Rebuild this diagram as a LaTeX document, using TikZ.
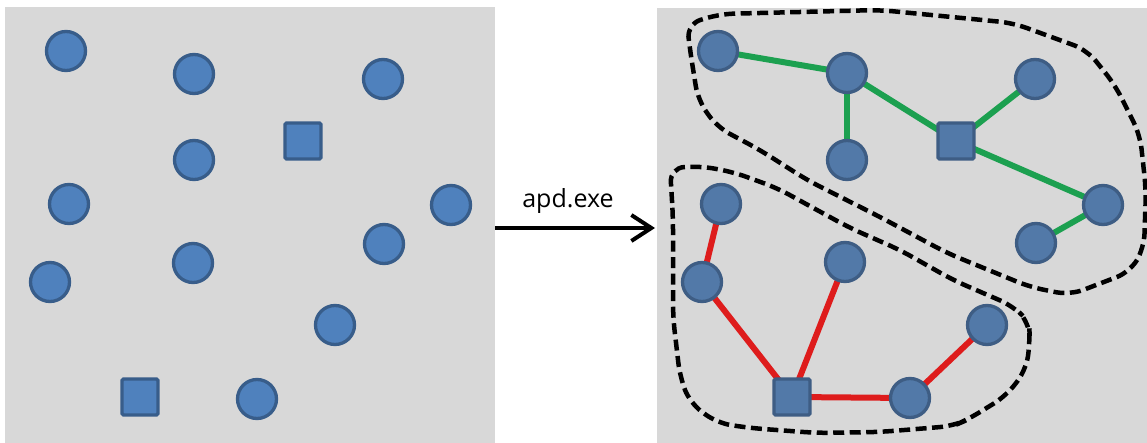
\documentclass[tikz,border=0pt]{standalone}
\usepackage{fontspec}
\setmainfont{Open Sans}
\usetikzlibrary{arrows.meta}
\pgfdeclarelayer{bg}
\pgfdeclarelayer{edges}
\pgfsetlayers{bg,edges,main}
\definecolor{panel}{RGB}{216,216,216}
\definecolor{nodefill}{RGB}{79,129,189}
\definecolor{nodeline}{RGB}{56,93,138}
\definecolor{nodefillb}{RGB}{82,121,168}
\definecolor{nodelineb}{RGB}{62,93,132}
\definecolor{linkgreen}{RGB}{28,160,80}
\definecolor{linkred}{RGB}{222,28,28}
\tikzset{
  pt/.style={circle, draw=nodeline, fill=nodefill, line width=3.3pt, minimum size=39pt, inner sep=0pt},
  hub/.style={rectangle, rounded corners=1.5pt, draw=nodeline, fill=nodefill, line width=3.3pt, minimum size=36pt, inner sep=0pt},
  ptb/.style={pt, draw=nodelineb, fill=nodefillb},
  hubb/.style={hub, draw=nodelineb, fill=nodefillb},
  glink/.style={draw=linkgreen, line width=6pt},
  rlink/.style={draw=linkred, line width=6pt},
  hull/.style={draw=black, line width=4.5pt, dash pattern=on 11pt off 5.5pt},
}
\begin{document}
\begin{tikzpicture}[x=1pt, y=-1pt]
\useasboundingbox (0,0) rectangle (1147,443);
\begin{pgfonlayer}{bg}
  \fill[white] (0,0) rectangle (1147,443);
  \fill[panel] (5,7) rectangle (495,443);
  \fill[panel] (657,8) rectangle (1147,443);
\end{pgfonlayer}

% scattered input points
\node[pt] (a1) at (66,51) {};
\node[pt] (a2) at (194,74) {};
\node[pt] (a3) at (383,79) {};
\node[pt] (a4) at (194,160) {};
\node[pt] (a5) at (69,204) {};
\node[pt] (a6) at (451,205) {};
\node[pt] (a7) at (384,244) {};
\node[pt] (a8) at (50,282) {};
\node[pt] (a9) at (193,263) {};
\node[pt] (a10) at (335,325) {};
\node[pt] (a11) at (257,399) {};
\node[hub] (as1) at (303,141) {};
\node[hub] (as2) at (140,397) {};

% arrow with label
\coordinate (from) at (495,228);
\coordinate (to) at (655,228);
\draw[line width=4pt, -{Straight Barb[length=20pt, width=26pt, line width=4pt]}] (from) -- (to)
  node[midway, above=9pt, xshift=-7pt, font=\fontsize{25}{30}\selectfont] (lbl) {apd.exe};

% clustered result, upper group
\node[ptb] (u1) at (718,51) {};
\node[ptb] (u2) at (847,73) {};
\node[ptb] (u3) at (1035,79) {};
\node[ptb] (u4) at (847,160) {};
\node[ptb] (u5) at (1103,205) {};
\node[ptb] (u6) at (1036,243) {};
\node[hubb] (us) at (956,141) {};

% lower group
\node[ptb] (l1) at (721,204) {};
\node[ptb] (l2) at (702,282) {};
\node[ptb] (l3) at (845,262) {};
\node[ptb] (l4) at (987,325) {};
\node[ptb] (l5) at (910,398) {};
\node[hubb] (ls) at (792,397) {};

\begin{pgfonlayer}{edges}
  \draw[glink] (u1.center) -- (u2.center);
  \draw[glink] (u2.center) -- (u4.center);
  \draw[glink] (u2.center) -- (us.center);
  \draw[glink] (us.center) -- (u3.center);
  \draw[glink] (us.center) -- (u5.center);
  \draw[glink] (u5.center) -- (u6.center);
  \draw[rlink] (l1.center) -- (l2.center);
  \draw[rlink] (l2.center) -- (ls.center);
  \draw[rlink] (ls.center) -- (l3.center);
  \draw[rlink] (ls.center) -- (l5.center);
  \draw[rlink] (l5.center) -- (l4.center);

  % cluster outlines
  \draw[hull, rounded corners=14pt] (690,50) -- (687,24) -- (720,14) -- (880,10) -- (1013,23) -- (1087,50)
    -- (1115,85) -- (1140,135) -- (1146,190) -- (1144,248) -- (1130,272) -- (1070,295)
    -- (1030,287) -- (947,253) -- (880,217) -- (807,180) -- (760,150) -- (717,127) -- (698,100) -- cycle;
  \draw[hull, rounded corners=14pt] (673,217) -- (670,168) -- (700,166) -- (733,172) -- (777,188) -- (817,210)
    -- (850,228) -- (900,250) -- (953,280) -- (1013,306) -- (1029,322) -- (1030,342) -- (1026,370)
    -- (1006,396) -- (967,420) -- (953,426) -- (880,432) -- (817,433) -- (750,428) -- (717,423)
    -- (690,403) -- (680,377) -- (673,317) -- cycle;
\end{pgfonlayer}
\end{tikzpicture}
\end{document}
